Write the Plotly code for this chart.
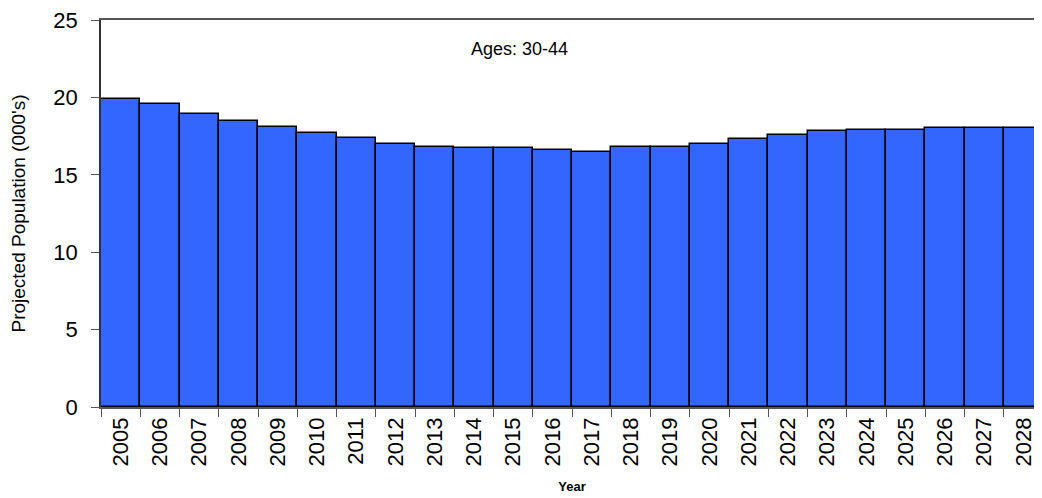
import plotly.graph_objects as go

years = [str(y) for y in range(2005, 2029)]
population = [19.9, 19.6, 18.9, 18.5, 18.1, 17.7, 17.4, 17.0, 16.8, 16.7, 16.7, 16.6,
              16.5, 16.8, 16.8, 17.0, 17.3, 17.6, 17.8, 17.9, 17.9, 18.0, 18.0, 18.0]
y_ticks = [0, 5, 10, 15, 20, 25]

fig = go.Figure(go.Bar(
    x=years, y=population,
    marker=dict(color="#3366FF", line=dict(color="black", width=1.5)),
    width=1.0,
))

font = "Liberation Sans, Arial, sans-serif"
fig.update_layout(
    width=1035, height=491,
    margin=dict(l=93, r=0, t=10, b=92),
    plot_bgcolor="white", paper_bgcolor="white",
    bargap=0,
    showlegend=False,
    font=dict(family=font, color="black"),
    xaxis=dict(
        type="category", tickson="boundaries", ticks="outside", ticklen=8,
        tickcolor="#555", tickangle=-90, tickfont=dict(size=22),
        showline=True, linecolor="#555", linewidth=1.5, mirror=True,
        showgrid=False, ticklabeloverflow="allow",
        title=dict(text="<b>Year</b>", font=dict(size=13), standoff=16),
    ),
    yaxis=dict(
        range=[0, 25], tickvals=y_ticks, ticks="outside", ticklen=8,
        tickcolor="#555", tickfont=dict(size=22), ticklabelstandoff=9,
        showline=True, linecolor="#333", linewidth=1.5,
        showgrid=False, zeroline=False, ticklabeloverflow="allow",
        title=dict(text="Projected Population (000's)", font=dict(size=19), standoff=26),
    ),
    annotations=[dict(
        text="Ages: 30-44", x=0.444, y=0.925, xref="paper", yref="paper",
        xanchor="center", yanchor="middle", showarrow=False,
        font=dict(size=18),
    )],
)

fig.write_html("out.html")
